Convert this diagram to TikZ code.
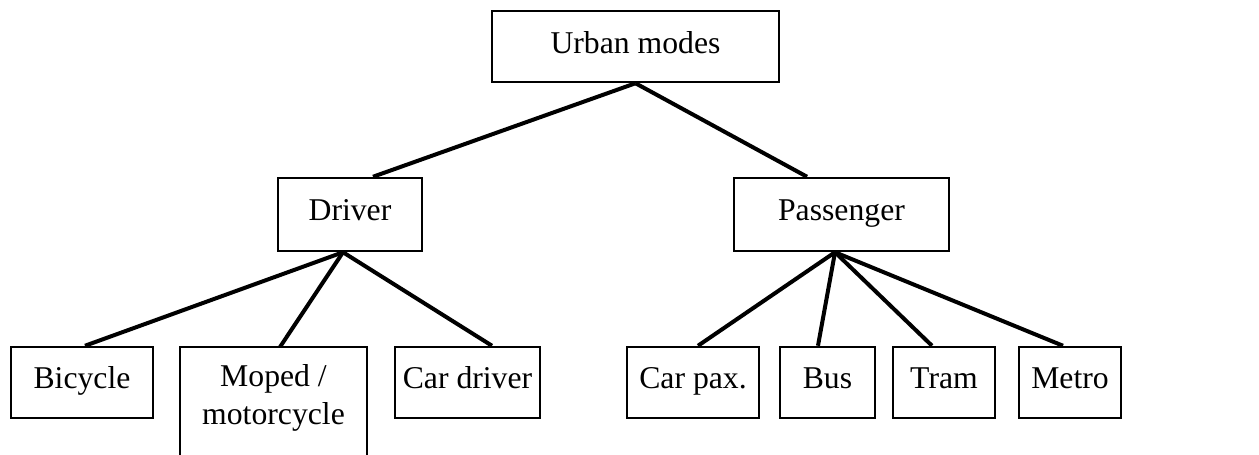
\documentclass[tikz,border=0pt]{standalone}
\usepackage{fontspec}
\setmainfont{Liberation Serif}
\begin{document}
\begin{tikzpicture}[x=1pt,y=-1pt,
  box/.style={draw,line width=2.5pt,rectangle,inner sep=0pt,
    font=\fontsize{31.7}{38}\selectfont,align=center,
    text height=22pt,text depth=10pt},
  link/.style={line width=4pt}]
\useasboundingbox (0,0) rectangle (1259,455);
\clip (0,0) rectangle (1259,455);
% top level
\node[box,minimum width=287pt,minimum height=71pt,text depth=9pt] (urb) at (635.5,46.5) {Urban modes};
% second level
\node[box,minimum width=144pt,minimum height=73pt] (drv) at (350,214.5) {Driver};
\node[box,minimum width=215pt,minimum height=73pt] (pas) at (841.5,214.5) {Passenger};
% third level
\node[box,minimum width=142pt,minimum height=71pt] (bic) at (82,382.5) {Bicycle};
\draw[line width=2.5pt] (180,480) -- (180,347) -- (367,347) -- (367,480);
\node[font=\fontsize{31.7}{38}\selectfont,align=center,anchor=north,inner sep=0pt] (mop) at (273.5,364) {Moped /\\motorcycle};
\node[box,minimum width=145pt,minimum height=71pt] (car) at (467.5,382.5) {Car driver};
\node[box,minimum width=132pt,minimum height=71pt] (cpx) at (693,382.5) {Car pax.};
\node[box,minimum width=95pt,minimum height=71pt] (bus) at (827.5,382.5) {Bus};
\node[box,minimum width=102pt,minimum height=71pt] (trm) at (944,382.5) {Tram};
\node[box,minimum width=102pt,minimum height=71pt] (met) at (1070,382.5) {Metro};
% joints on box edges
\coordinate (urbB) at (urb.south);
\coordinate (drvT) at ([xshift=23pt]drv.north);
\coordinate (drvB) at ([xshift=-7pt]drv.south);
\coordinate (pasT) at ([xshift=-34.5pt]pas.north);
\coordinate (pasB) at ([xshift=-6.5pt]pas.south);
\coordinate (bicT) at ([xshift=3pt]bic.north);
\coordinate (mopT) at (280,347);
\coordinate (carT) at ([xshift=24.5pt]car.north);
\coordinate (cpxT) at ([xshift=5pt]cpx.north);
\coordinate (busT) at ([xshift=-9.5pt]bus.north);
\coordinate (trmT) at ([xshift=-12pt]trm.north);
\coordinate (metT) at ([xshift=-7pt]met.north);
% connectors
\draw[link] (urbB) -- (drvT);
\draw[link] (urbB) -- (pasT);
\draw[link] (drvB) -- (bicT);
\draw[link] (drvB) -- (mopT);
\draw[link] (drvB) -- (carT);
\draw[link] (pasB) -- (cpxT);
\draw[link] (pasB) -- (busT);
\draw[link] (pasB) -- (trmT);
\draw[link] (pasB) -- (metT);
\end{tikzpicture}
\end{document}
